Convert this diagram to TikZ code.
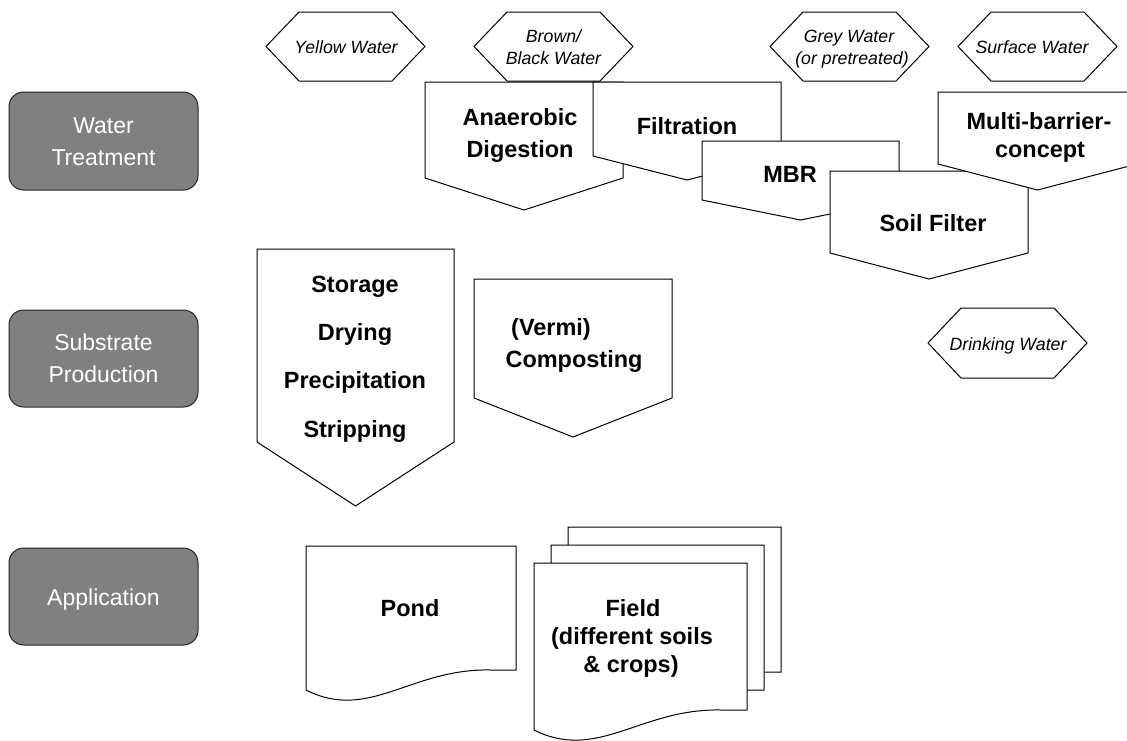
\documentclass[tikz,border=0pt]{standalone}
\usepackage{fontspec}
\setmainfont{Liberation Sans}
\definecolor{boxgray}{RGB}{128,128,128}
\tikzset{
  shapeline/.style={draw=black, line width=0.75pt, fill=white, line join=miter},
  stage/.style={draw=black!85, line width=0.75pt, fill=boxgray, rounded corners=11pt},
  stagetext/.style={text=white, font=\fontsize{17.25}{20}\selectfont, anchor=base, inner sep=0pt},
  steptext/.style={font=\bfseries\fontsize{17.6}{20}\selectfont, anchor=base, inner sep=0pt},
  watertext/.style={font=\itshape\fontsize{13.3}{16}\selectfont, anchor=base, inner sep=0pt},
}
% hexagon: left, right, top, bottom
\newcommand\hexshape[4]{%
  \draw[shapeline] (#1,{(#3+#4)/2}) -- ({#1+33},#3) -- ({#2-33},#3) -- (#2,{(#3+#4)/2})
    -- ({#2-33},#4) -- ({#1+33},#4) -- cycle;}
% off-page block: left, right, top, side bottom, tip
\newcommand\offpage[5]{%
  \draw[shapeline] (#1,#3) -- (#2,#3) -- (#2,#4) -- ({(#1+#2)/2},#5) -- (#1,#4) -- cycle;}
% document sheet with wavy bottom: left, right, top, right bottom
\newcommand\docshape[4]{%
  \draw[shapeline] (#1,#3) -- (#2,#3) -- (#2,#4) -- ({#2-0.12*(#2-#1)},#4)
    .. controls ({#1+0.5*(#2-#1)},{#4-2}) and ({#1+0.3*(#2-#1)},{#4+52}) .. (#1,{#4+20}) -- cycle;}

\begin{document}
\begin{tikzpicture}[x=0.75pt, y=-0.75pt]
\useasboundingbox (0,0) rectangle (1127,740);

% stage labels
\draw[stage] (9,92) rectangle (198,190);
\draw[stage] (9,310) rectangle (198,407);
\draw[stage] (9,548) rectangle (198,645);
\node[stagetext] (wt1) at (103.5,133) {Water};
\node[stagetext] (wt2) at (103.5,165) {Treatment};
\node[stagetext] (sp1) at (103.5,350) {Substrate};
\node[stagetext] (sp2) at (103.5,382) {Production};
\node[stagetext] (ap)  at (103.5,605) {Application};

% water sources
\hexshape{266}{425}{12}{81}
\hexshape{474}{633}{12}{81}
\hexshape{770}{929}{12}{81}
\hexshape{958}{1117}{12}{81}
\hexshape{928}{1087}{308}{378}
\node[watertext] (yw)  at (346,53.5) {Yellow Water};
\node[watertext] (bw1) at (553.5,42) {Brown/};
\node[watertext] (bw2) at (553.5,64) {Black Water};
\node[watertext] (gw1) at (849,42) {Grey Water};
\node[watertext] (gw2) at (852,64) {(or pretreated)};
\node[watertext] (sw)  at (1032,53.5) {Surface Water};
\node[watertext] (dw)  at (1008,350) {Drinking Water};

% water treatment steps
\offpage{425}{623}{82}{178}{210}
\offpage{593}{781}{82}{156}{180}
\offpage{702}{899}{141}{200}{220}
\offpage{830}{1028}{171}{253}{279}
\offpage{938}{1137}{92}{164}{190}
\node[steptext] (ad1) at (520,125) {Anaerobic};
\node[steptext] (ad2) at (520,157) {Digestion};
\node[steptext] (fi)  at (687,134) {Filtration};
\node[steptext] (mbr) at (790,182) {MBR};
\node[steptext] (sf)  at (933,231) {Soil Filter};
\node[steptext] (mb1) at (1039,129) {Multi-barrier-};
\node[steptext] (mb2) at (1040,157) {concept};

% substrate production steps
\offpage{257}{454}{249}{442}{506}
\offpage{474}{672}{279}{398}{437}
\node[steptext] (st1) at (355,292) {Storage};
\node[steptext] (st2) at (355,340) {Drying};
\node[steptext] (st3) at (355,388) {Precipitation};
\node[steptext] (st4) at (355,437) {Stripping};
\node[steptext] (vc1) at (551,335) {(Vermi)};
\node[steptext] (vc2) at (574,367) {Composting};

% application sites
\docshape{306}{516}{546}{670}
\docshape{568}{781}{527}{672}
\docshape{551}{764}{545}{690}
\docshape{534}{747}{563}{710}
\node[steptext] (pd)  at (410,616) {Pond};
\node[steptext] (fd1) at (633,616) {Field};
\node[steptext] (fd2) at (632,644) {(different soils};
\node[steptext] (fd3) at (631,672) {\& crops)};
\end{tikzpicture}
\end{document}
